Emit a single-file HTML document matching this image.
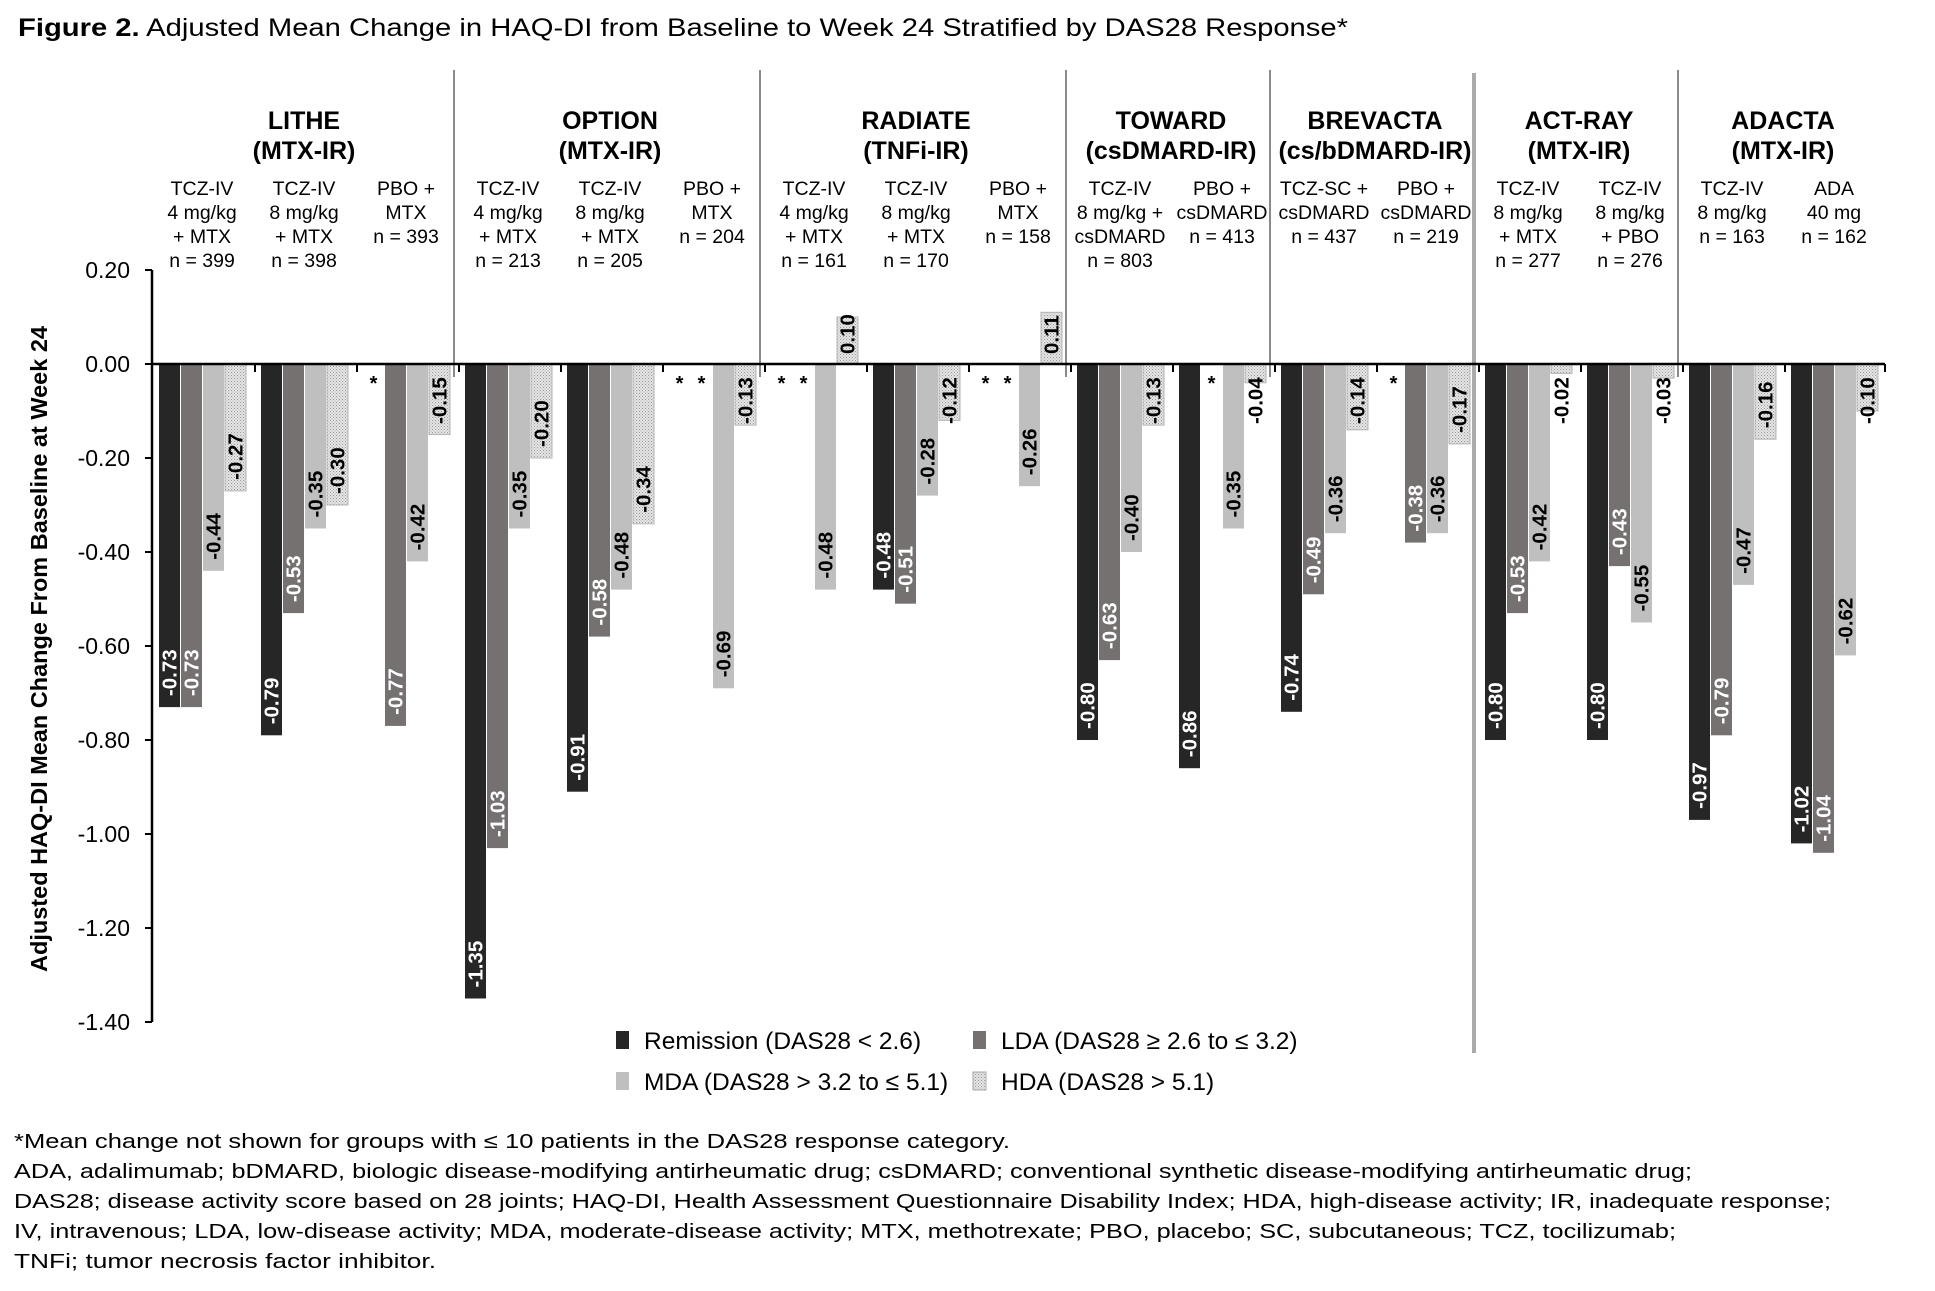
<!DOCTYPE html>
<html><head><meta charset="utf-8"><style>
html,body{margin:0;padding:0;background:#fff;}
svg{display:block;font-family:"Liberation Sans",Arial,sans-serif;}
</style></head><body>
<svg id="chart" width="1935" height="1291" viewBox="0 0 1935 1291" xmlns="http://www.w3.org/2000/svg">
<defs>
<pattern id="dots" width="3" height="3" patternUnits="userSpaceOnUse">
<rect width="3" height="3" fill="#e4e4e4"/><rect x="0" y="0" width="1" height="1" fill="#9a9a9a"/><rect x="1.5" y="1.5" width="1" height="1" fill="#b0b0b0"/>
</pattern>
</defs>
<text x="18" y="36" font-size="25" fill="#000" textLength="1330" lengthAdjust="spacingAndGlyphs"><tspan font-weight="bold">Figure 2.</tspan> Adjusted Mean Change in HAQ-DI from Baseline to Week 24 Stratified by DAS28 Response*</text>
<g id="plot"></g>
<g>
<rect x="616" y="1031" width="13" height="18" fill="#262626"/>
<text x="644" y="1049" font-size="24.5">Remission (DAS28 &lt; 2.6)</text>
<rect x="973" y="1031" width="13" height="18" fill="#767171"/>
<text x="1001" y="1049" font-size="24.5">LDA (DAS28 ≥ 2.6 to ≤ 3.2)</text>
<rect x="616" y="1072" width="13" height="18" fill="#bfbfbf"/>
<text x="644" y="1090" font-size="24.5">MDA (DAS28 &gt; 3.2 to ≤ 5.1)</text>
<rect x="973" y="1072" width="13" height="18" fill="url(#dots)" stroke="#aaa"/>
<text x="1001" y="1090" font-size="24.5">HDA (DAS28 &gt; 5.1)</text>
</g>
<g font-size="20.5">
<text x="14" y="1148" textLength="996" lengthAdjust="spacingAndGlyphs">*Mean change not shown for groups with ≤ 10 patients in the DAS28 response category.</text>
<text x="14" y="1178" textLength="1678" lengthAdjust="spacingAndGlyphs">ADA, adalimumab; bDMARD, biologic disease-modifying antirheumatic drug; csDMARD; conventional synthetic disease-modifying antirheumatic drug;</text>
<text x="14" y="1208" textLength="1817" lengthAdjust="spacingAndGlyphs">DAS28; disease activity score based on 28 joints; HAQ-DI, Health Assessment Questionnaire Disability Index; HDA, high-disease activity; IR, inadequate response;</text>
<text x="14" y="1238" textLength="1662" lengthAdjust="spacingAndGlyphs">IV, intravenous; LDA, low-disease activity; MDA, moderate-disease activity; MTX, methotrexate; PBO, placebo; SC, subcutaneous; TCZ, tocilizumab;</text>
<text x="14" y="1268" textLength="422" lengthAdjust="spacingAndGlyphs">TNFi; tumor necrosis factor inhibitor.</text>
</g>
</svg>
<script>
const studies = ["LITHE","OPTION","RADIATE","TOWARD","BREVACTA","ACT-RAY","ADACTA"];
const studySubtitles = ["(MTX-IR)","(MTX-IR)","(TNFi-IR)","(csDMARD-IR)","(cs/bDMARD-IR)","(MTX-IR)","(MTX-IR)"];
const studyGroupCounts = [3,3,3,2,2,2,2];
const groupLabels = [
 ["TCZ-IV","4 mg/kg","+ MTX","n = 399"],["TCZ-IV","8 mg/kg","+ MTX","n = 398"],["PBO +","MTX","n = 393"],
 ["TCZ-IV","4 mg/kg","+ MTX","n = 213"],["TCZ-IV","8 mg/kg","+ MTX","n = 205"],["PBO +","MTX","n = 204"],
 ["TCZ-IV","4 mg/kg","+ MTX","n = 161"],["TCZ-IV","8 mg/kg","+ MTX","n = 170"],["PBO +","MTX","n = 158"],
 ["TCZ-IV","8 mg/kg +","csDMARD","n = 803"],["PBO +","csDMARD","n = 413"],
 ["TCZ-SC +","csDMARD","n = 437"],["PBO +","csDMARD","n = 219"],
 ["TCZ-IV","8 mg/kg","+ MTX","n = 277"],["TCZ-IV","8 mg/kg","+ PBO","n = 276"],
 ["TCZ-IV","8 mg/kg","n = 163"],["ADA","40 mg","n = 162"]
];
const series = ["Remission","LDA","MDA","HDA"];
const remission = [-0.73,-0.79,null,-1.35,-0.91,null,null,-0.48,null,-0.80,-0.86,-0.74,null,-0.80,-0.80,-0.97,-1.02];
const lda       = [-0.73,-0.53,-0.77,-1.03,-0.58,null,null,-0.51,null,-0.63,null,-0.49,-0.38,-0.53,-0.43,-0.79,-1.04];
const mda       = [-0.44,-0.35,-0.42,-0.35,-0.48,-0.69,-0.48,-0.28,-0.26,-0.40,-0.35,-0.36,-0.36,-0.42,-0.55,-0.47,-0.62];
const hda       = [-0.27,-0.30,-0.15,-0.20,-0.34,-0.13,0.10,-0.12,0.11,-0.13,-0.04,-0.14,-0.17,-0.02,-0.03,-0.16,-0.10];
const yTicks = [0.2,0,-0.2,-0.4,-0.6,-0.8,-1.0,-1.2,-1.4];
const yTickLabels = ["0.20","0.00","-0.20","-0.40","-0.60","-0.80","-1.00","-1.20","-1.40"];

const NS="http://www.w3.org/2000/svg";
const g=document.getElementById('plot');
const Y0=364, PX=470, AX=152, G0=159, GP=102, BP=22, BW=21, XEND=1885;
function y(v){return Y0 - v*PX;}
function gx(i){return G0 + i*GP;}
function mk(tag,attrs,parent){const e=document.createElementNS(NS,tag);for(const k in attrs)e.setAttribute(k,attrs[k]);(parent||g).appendChild(e);return e;}
const fills=["#262626","#767171","#bfbfbf","url(#dots)"];
const labelColors=["#fff","#fff","#000","#000"];
const data=[remission,lda,mda,hda];

let gi=0;
studies.forEach((s,si)=>{
  const first=gi, last=gi+studyGroupCounts[si]-1;
  const cx=(gx(first)+gx(last))/2+BP*2-1;
  let t=mk('text',{x:cx,y:129,'text-anchor':'middle','font-size':25,'font-weight':'bold'});
  t.textContent=s;
  
  
  t=mk('text',{x:cx,y:159,'text-anchor':'middle','font-size':25,'font-weight':'bold'});
  t.textContent=studySubtitles[si];
  
  
  if(si>0){
    const sx=(gx(first)+gx(first-1)+4*BP)/2-4;
    const thick = s==="ACT-RAY";
    const l=mk('line',{x1:sx,x2:sx,y1:thick?73:70,y2:thick?1053:377,stroke:thick?'#aaaaaa':'#8a8a8a','stroke-width':thick?4:2});
    
    
  }
  gi+=studyGroupCounts[si];
});

groupLabels.forEach((lines,i)=>{
  const cx=gx(i)+2*BP-1;
  lines.forEach((ln,k)=>{
    const t=mk('text',{x:cx,y:195+k*24,'text-anchor':'middle','font-size':19.5});
    t.textContent=ln;
    
    
  });
});

for(let i=0;i<groupLabels.length;i++){
  for(let k=0;k<4;k++){
    const v=data[k][i];
    const bx=gx(i)+k*BP;
    const cx=bx+BW/2;
    if(v===null){
      const a=mk('text',{x:cx,y:390,'text-anchor':'middle','font-size':20,'font-weight':'bold'});
      a.textContent='*';
      
      
      continue;
    }
    const top=Math.min(y(v),Y0), h=Math.abs(y(v)-Y0);
    const r=mk('rect',{x:bx,y:top,width:BW,height:h,fill:fills[k]});
    if(k===3){r.setAttribute('stroke','#b5b5b5');r.setAttribute('stroke-width','1');}
    
    
    let ly;
    if(v<0){ly=Math.max(y(v)-11,Y0+60);}
    else {ly=Y0-10;}
    const col = (v<0 && y(v)-11<Y0+60 && k<2) ? '#000' : labelColors[k];
    const t=mk('text',{x:0,y:0,'text-anchor':'start','font-size':20.5,'font-weight':'bold',fill:col,
      transform:`translate(${cx+7},${ly}) rotate(-90)`});
    t.textContent=v.toFixed(2);
    
    
  }
}

let a=mk('line',{x1:AX,x2:AX,y1:y(0.2),y2:y(-1.4),stroke:'#000','stroke-width':2.5});


a=mk('line',{x1:AX,x2:XEND,y1:Y0,y2:Y0,stroke:'#000','stroke-width':2.5});


for(let i=1;i<=groupLabels.length;i++){
  const tx = i<groupLabels.length ? gx(i)-6 : XEND;
  const t=mk('line',{x1:tx,x2:tx,y1:Y0,y2:Y0+8,stroke:'#000','stroke-width':2});
  
  
}
yTicks.forEach((v,i)=>{
  const t=mk('line',{x1:AX-7,x2:AX,y1:y(v),y2:y(v),stroke:'#000','stroke-width':2});
  
  
  const l=mk('text',{x:130,y:y(v)+8,'text-anchor':'end','font-size':23});
  l.textContent=yTickLabels[i];
  
  
});
const yt=mk('text',{x:0,y:0,'text-anchor':'middle','font-size':23.5,'font-weight':'bold',transform:'translate(47,649) rotate(-90)'});
yt.textContent='Adjusted HAQ-DI Mean Change From Baseline at Week 24';


</script>
</body></html>
